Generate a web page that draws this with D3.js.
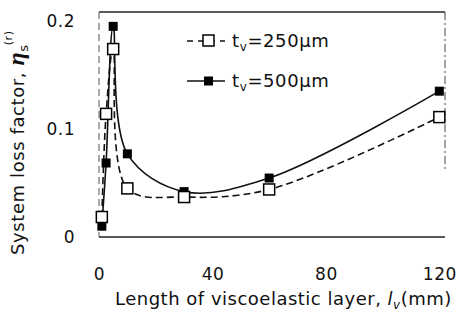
<!DOCTYPE html>
<html><head><meta charset="utf-8">
<script src="https://cdn.jsdelivr.net/npm/d3@7"></script>
<style>body{margin:0;background:#fff}svg{display:block}text{font-family:"DejaVu Sans",sans-serif;fill:#111}</style>
</head><body><svg id="c" width="460" height="323"></svg>
<script>
const lengths = [1, 2.5, 5, 10, 30, 60, 120];
const eta250 = [0.0185, 0.114, 0.174, 0.045, 0.037, 0.044, 0.111];
const eta500 = [0.010, 0.0685, 0.195, 0.077, 0.042, 0.0546, 0.135];
const xTicks = [0, 40, 80, 120];
const yTicks = [0, 0.1, 0.2];
const yTickLabels = ["0", "0.1", "0.2"];

const svg = d3.select("#c");
const L = 99, R = 445, T = 12, B = 237;
const x = d3.scaleLinear().domain([0, 122]).range([L, R]);
const y = d3.scaleLinear().domain([0, 0.2083]).range([B, T]);

// frame
svg.append("line").attr("x1", L).attr("x2", R).attr("y1", T).attr("y2", T).attr("stroke", "#222").attr("stroke-width", 1.3);
svg.append("line").attr("x1", L).attr("x2", R).attr("y1", B).attr("y2", B).attr("stroke", "#222").attr("stroke-width", 1.5);
svg.append("line").attr("x1", L).attr("x2", L).attr("y1", T).attr("y2", B).attr("stroke", "#555").attr("stroke-width", 1).attr("stroke-dasharray", "7,4");
svg.append("line").attr("x1", R).attr("x2", R).attr("y1", T).attr("y2", 170).attr("stroke", "#444").attr("stroke-width", 1).attr("stroke-dasharray", "8,3,2,3");

// axes (labels only)
const xAxis = d3.axisBottom(x).tickValues(xTicks).tickSize(0).tickPadding(0).tickFormat(d3.format("d"));
const gx = svg.append("g").attr("transform", `translate(0,${B})`).call(xAxis);
gx.select(".domain").remove();
gx.selectAll("text").attr("y", 43).attr("dy", 0).style("font-size", "17px").style("font-family", "DejaVu Sans").style("letter-spacing", "0.5px").attr("fill", "#111");

const yAxis = d3.axisLeft(y).tickValues(yTicks).tickSize(0).tickPadding(0).tickFormat((d, i) => yTickLabels[i]);
const gy = svg.append("g").attr("transform", `translate(75,0)`).call(yAxis);
gy.select(".domain").remove();
gy.selectAll("text").attr("dy", "0.35em").style("font-size", "17px").style("font-family", "DejaVu Sans").style("letter-spacing", "0.5px").attr("fill", "#111");

// axis titles
const xt = svg.append("text").attr("x", 115).attr("y", 305).style("font-size", "18px").style("letter-spacing", "0.5px");
xt.append("tspan").text("Length of viscoelastic layer, ");
xt.append("tspan").text("l").style("font-style", "italic");
xt.append("tspan").text("v").style("font-size", "12px").style("font-style", "italic").attr("dy", 4);
xt.append("tspan").text("(mm)").attr("dy", -4);

const yt = svg.append("text").attr("transform", "translate(24,255) rotate(-90)").style("font-size", "18px").style("letter-spacing", "0.6px");
yt.append("tspan").text("System loss factor, ");
yt.append("tspan").text("η").style("font-family", "'Liberation Serif',serif").style("font-style", "italic").style("font-weight", "bold").style("font-size", "24px");
yt.append("tspan").text("s").style("font-size", "13px").attr("dy", 4);
yt.append("tspan").text("(r)").style("font-size", "11px").attr("dx", -1).attr("dy", -16);

// lines
const line = d3.line().x(d => x(d[0])).y(d => y(d[1])).curve(d3.curveCatmullRom.alpha(0.5));
const d250 = lengths.map((l, i) => [l, eta250[i]]);
const d500 = lengths.map((l, i) => [l, eta500[i]]);

svg.append("path").attr("d", line(d250)).attr("fill", "none").attr("stroke", "#111").attr("stroke-width", 1.6).attr("stroke-dasharray", "7,4");
svg.append("path").attr("d", line(d500)).attr("fill", "none").attr("stroke", "#111").attr("stroke-width", 1.6);

svg.selectAll(".m500").data(d500).enter().append("rect")
  .attr("x", d => x(d[0]) - 4.5).attr("y", d => y(d[1]) - 4.5).attr("width", 9).attr("height", 9).attr("fill", "#000");
svg.selectAll(".m250").data(d250).enter().append("rect")
  .attr("x", d => x(d[0]) - 5.5).attr("y", d => y(d[1]) - 5.5).attr("width", 11).attr("height", 11).attr("fill", "#fff").attr("stroke", "#000").attr("stroke-width", 1.5);

// legend
const lg = svg.append("g");
lg.append("line").attr("x1", 187).attr("x2", 225).attr("y1", 41).attr("y2", 41).attr("stroke", "#111").attr("stroke-width", 1.6).attr("stroke-dasharray", "6,5");
lg.append("rect").attr("x", 203).attr("y", 35).attr("width", 11).attr("height", 11).attr("fill", "#fff").attr("stroke", "#000").attr("stroke-width", 1.5);
lg.append("line").attr("x1", 187).attr("x2", 225).attr("y1", 81).attr("y2", 81).attr("stroke", "#111").attr("stroke-width", 1.6);
lg.append("rect").attr("x", 204).attr("y", 76.5).attr("width", 9).attr("height", 9).attr("fill", "#000");
[["250", 47], ["500", 87]].forEach(([v, yy]) => {
  const t = lg.append("text").attr("x", 232).attr("y", yy).style("font-size", "18px").style("letter-spacing", "0.6px");
  t.append("tspan").text("t");
  t.append("tspan").text("v").style("font-size", "12px").attr("dy", 4);
  t.append("tspan").text("=" + v + "µm").attr("dy", -4);
});
</script></body></html>
